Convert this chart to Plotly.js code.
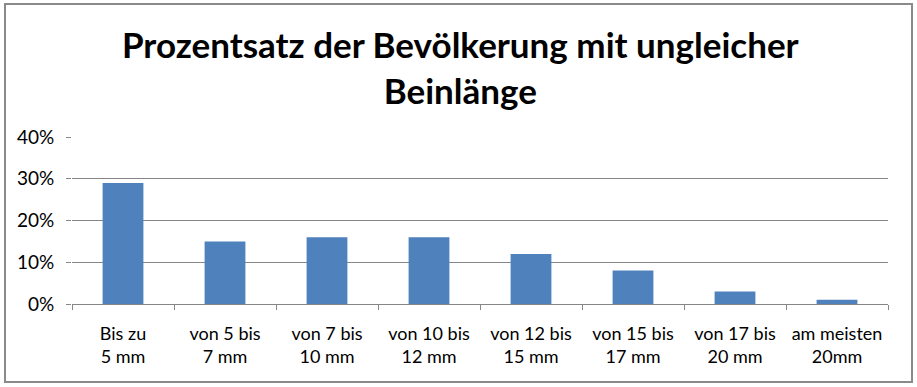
<!DOCTYPE html>
<html>
<head>
<meta charset="utf-8">
<script src="https://cdn.plot.ly/plotly-3.0.1.min.js"></script>
<style>
  html, body { margin: 0; padding: 0; background: #ffffff; }
  #wrap { position: relative; width: 917px; height: 387px; }
  #chart { position: absolute; left: 0; top: 0; width: 917px; height: 387px; }
  #frame { position: absolute; left: 4px; top: 3px; width: 905px; height: 376px;
           border: 2px solid #8a8a8a; pointer-events: none; }
</style>
</head>
<body>
<div id="wrap">
  <div id="chart"></div>
  <div id="frame"></div>
</div>
<script>
const titleText = "Prozentsatz der Bevölkerung mit ungleicher<br>Beinlänge";
const categories = [
  "Bis zu<br>5 mm",
  "von 5 bis<br>7 mm",
  "von 7 bis<br>10 mm",
  "von 10 bis<br>12 mm",
  "von 12 bis<br>15 mm",
  "von 15 bis<br>17 mm",
  "von 17 bis<br>20 mm",
  "am meisten<br>20mm"
];
const values = [0.29, 0.15, 0.16, 0.16, 0.12, 0.08, 0.03, 0.01];
const yTickVals = [0, 0.1, 0.2, 0.3, 0.4];
const yTickText = ["0%", "10%", "20%", "30%", "40%"];

const trace = {
  type: "bar",
  x: categories,
  y: values,
  marker: { color: "#4F81BD" },
  hoverinfo: "none"
};

const layout = {
  width: 917,
  height: 387,
  margin: { l: 72, r: 29, t: 137, b: 83 },
  paper_bgcolor: "rgba(0,0,0,0)",
  plot_bgcolor: "#ffffff",
  bargap: 0.6,
  showlegend: false,
  font: { family: "Lato, 'Open Sans', sans-serif", size: 18, color: "#000000" },
  title: {
    text: titleText,
    font: { family: "Lato, 'Open Sans', sans-serif", size: 35, color: "#000000", weight: "bold" },
    x: 0.502,
    xanchor: "center",
    xref: "container",
    y: 0.85,
    yanchor: "top",
    yref: "container"
  },
  xaxis: {
    type: "category",
    showgrid: false,
    showline: true,
    linecolor: "#868686",
    linewidth: 1,
    ticks: "outside",
    tickson: "boundaries",
    ticklen: 5,
    tickcolor: "#868686",
    tickangle: 0,
    tickfont: { size: 18, color: "#000000" },
    ticklabelstandoff: 13,
    zeroline: false,
    fixedrange: true
  },
  yaxis: {
    range: [0, 0.4],
    tickvals: yTickVals,
    ticktext: yTickText,
    showgrid: true,
    gridcolor: "#868686",
    gridwidth: 1,
    showline: false,
    zeroline: false,
    ticks: "outside",
    ticklen: 5,
    tickcolor: "#868686",
    tickfont: { size: 19, color: "#000000" },
    ticklabelstandoff: 8,
    fixedrange: true
  }
};

Plotly.newPlot("chart", [trace], layout, { displayModeBar: false, staticPlot: true });
</script>
</body>
</html>
